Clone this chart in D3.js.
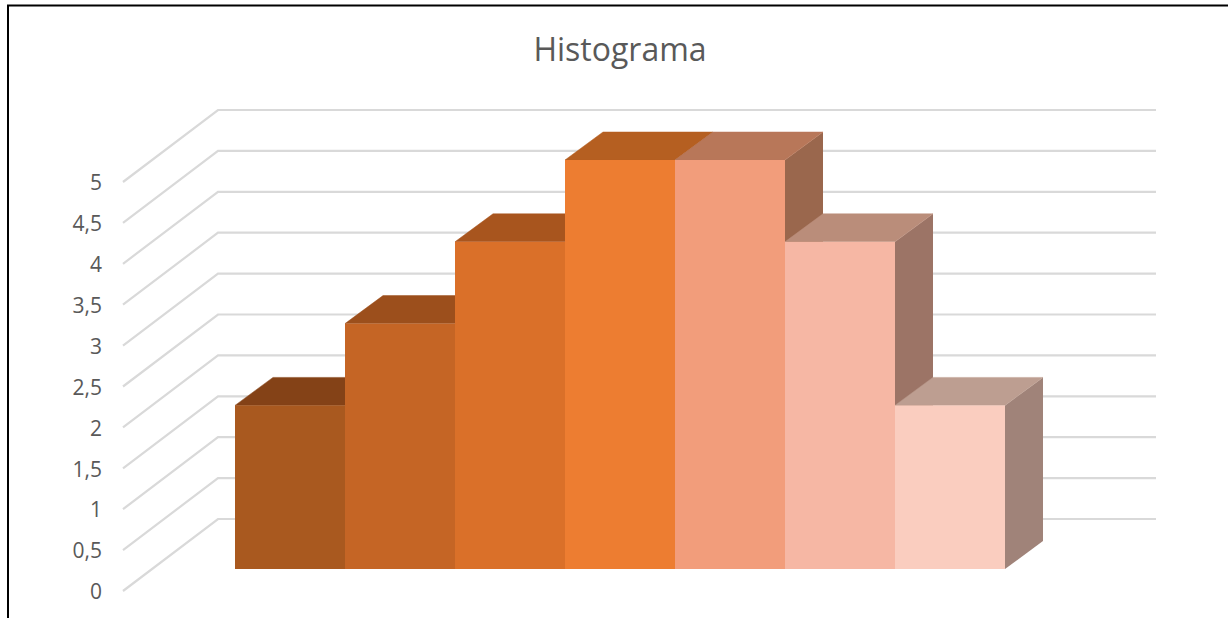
<!doctype html>
<html lang="en">

<head>
  <meta charset="utf-8">
  <title>Histograma</title>
  <style>
    html, body {
      margin: 0;
      padding: 0;
      background: #fff;
    }

    text {
      font-family: "Open Sans", sans-serif;
      fill: #595959;
    }

    .grid {
      fill: none;
      stroke: #d9d9d9;
      stroke-width: 2.2;
    }
  </style>
  <script src="https://d3js.org/d3.v7.min.js"></script>
</head>

<body>
  <div id="chart"></div>

  <script>
    const chartTitle = "Histograma";
    const bins = ["1", "2", "3", "4", "5", "6", "7"];
    const counts = [2, 3, 4, 5, 5, 4, 2];
    const ticks = [0, 0.5, 1, 1.5, 2, 2.5, 3, 3.5, 4, 4.5, 5];
    const frontColors = ["#a9591f", "#c56525", "#da7029", "#ed7d31", "#f29d7b", "#f6b7a4", "#facdbf"];
    const topColors = ["#844217", "#9c4f1c", "#a8551e", "#b55f21", "#b87759", "#ba8d7a", "#bd9e91"];
    const sideColors = ["#6e3a17", "#7f461d", "#8a4d22", "#8f5226", "#9a674d", "#9c7466", "#a08379"];

    const width = 1228;
    const height = 618;

    const svg = d3.select("#chart")
      .append("svg")
      .attr("width", width)
      .attr("height", height)
      .style("display", "block");

    // bars stand on the front of the floor, the walls sit further back
    const x = d3.scaleBand().domain(bins).range([235, 1005]).padding(0);
    const yBar = d3.scaleLinear().domain([0, 5]).range([569, 160]);
    const yWall = d3.scaleLinear().domain([0, 5]).range([519, 110]);
    const yAxis = d3.scaleLinear().domain([0, 5]).range([591, 182]);

    const barDepth = { dx: 38, dy: -28 };
    const wallLeft = 218;
    const wallRight = 1156;
    const axisX = 123;

    // page frame, open on the right
    svg.append("path")
      .attr("d", d3.line()([[8, height], [8, 5.5], [width, 5.5]]))
      .attr("fill", "none")
      .attr("stroke", "#000")
      .attr("stroke-width", 2);

    svg.append("text")
      .attr("x", 620)
      .attr("y", 61)
      .attr("text-anchor", "middle")
      .style("font-size", "32px")
      .text(chartTitle);

    // gridlines run along the side wall, then across the back wall
    svg.append("g")
      .selectAll("path")
      .data(ticks)
      .join("path")
      .attr("class", "grid")
      .attr("d", d => d3.line()([[axisX, yAxis(d)], [wallLeft, yWall(d)], [wallRight, yWall(d)]]));

    const axis = d3.axisLeft(yAxis)
      .tickValues(ticks)
      .tickSize(0)
      .tickPadding(0)
      .tickFormat(d => String(d).replace(".", ","));

    const axisGroup = svg.append("g")
      .attr("transform", "translate(102,1)")
      .call(axis);
    axisGroup.select(".domain").remove();
    axisGroup.selectAll("text")
      .style("font-size", "21px")
      .style("font-family", '"Open Sans", sans-serif')
      .attr("fill", "#595959");

    const bars = svg.append("g")
      .selectAll("g")
      .data(bins.map((b, i) => ({ bin: b, count: counts[i], i })))
      .join("g");

    // side face
    bars.append("polygon")
      .attr("fill", d => sideColors[d.i])
      .attr("points", d => {
        const xr = x(d.bin) + x.bandwidth();
        return [[xr, yBar(d.count)], [xr + barDepth.dx, yBar(d.count) + barDepth.dy],
          [xr + barDepth.dx, yBar(0) + barDepth.dy], [xr, yBar(0)]].join(" ");
      });

    // top face, stroked a little so no white seam shows against the front
    bars.append("polygon")
      .attr("fill", d => topColors[d.i])
      .attr("stroke", d => topColors[d.i])
      .attr("stroke-width", 0.5)
      .attr("points", d => {
        const xl = x(d.bin);
        const xr = xl + x.bandwidth();
        const yt = yBar(d.count);
        return [[xl, yt], [xr, yt], [xr + barDepth.dx, yt + barDepth.dy], [xl + barDepth.dx, yt + barDepth.dy]].join(" ");
      });

    // front face
    bars.append("rect")
      .attr("x", d => x(d.bin))
      .attr("y", d => yBar(d.count))
      .attr("width", x.bandwidth())
      .attr("height", d => yBar(0) - yBar(d.count))
      .attr("fill", d => frontColors[d.i]);
  </script>
</body>

</html>
